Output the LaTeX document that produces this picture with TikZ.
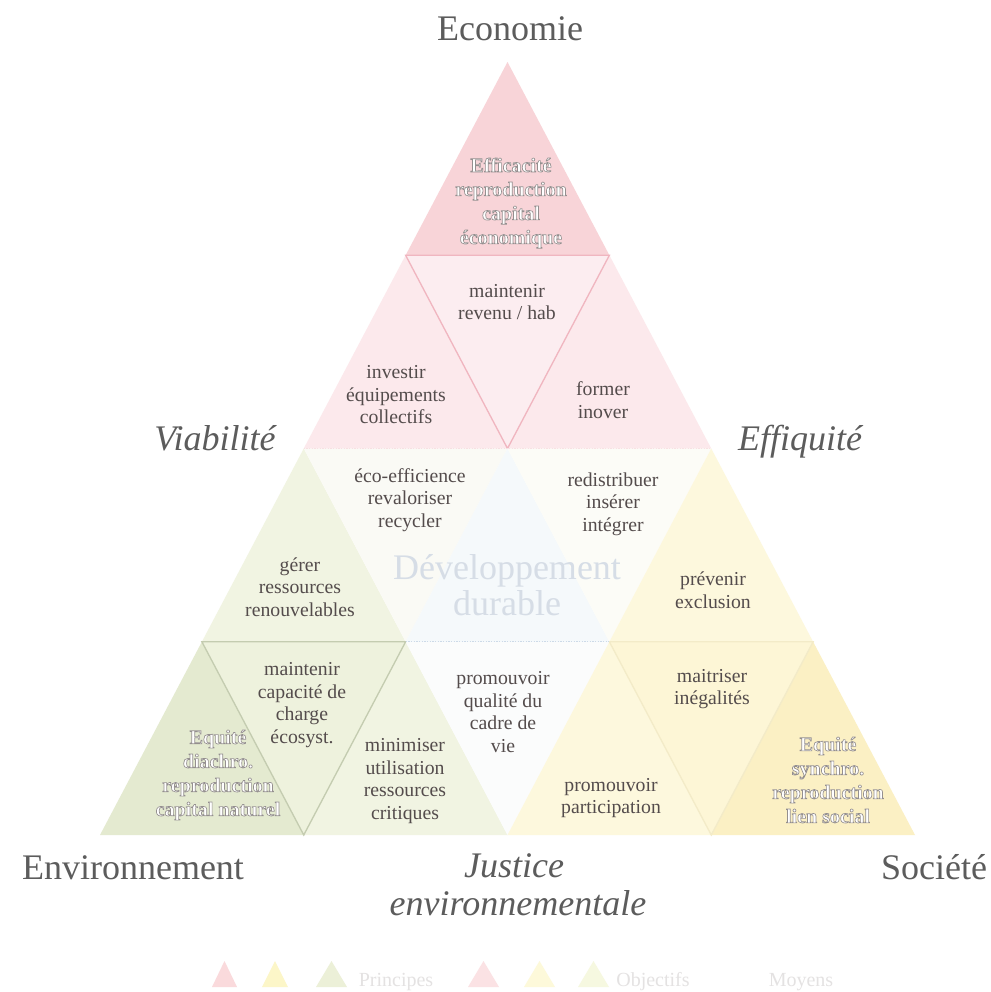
\documentclass[tikz,border=0pt]{standalone}
\usepackage{fontspec}
\setmainfont{Liberation Serif}
\definecolor{ecoP}{RGB}{248,212,216}
\definecolor{ecoO}{RGB}{252,233,236}
\definecolor{ecoM}{RGB}{252,237,240}
\definecolor{ecoL}{RGB}{240,182,192}
\definecolor{envP}{RGB}{228,234,208}
\definecolor{envO}{RGB}{241,244,226}
\definecolor{envM}{RGB}{238,242,221}
\definecolor{envL}{RGB}{196,204,176}
\definecolor{socP}{RGB}{251,240,196}
\definecolor{socO}{RGB}{253,248,221}
\definecolor{socM}{RGB}{253,246,214}
\definecolor{socL}{RGB}{238,226,176}
\definecolor{mixA}{RGB}{250,250,245}
\definecolor{mixB}{RGB}{252,252,247}
\definecolor{ddC}{RGB}{245,249,251}
\definecolor{ddL}{RGB}{205,218,232}
\definecolor{qual}{RGB}{251,252,252}
\definecolor{txt}{RGB}{84,76,76}
\definecolor{head}{RGB}{92,92,92}
\definecolor{ddT}{RGB}{214,221,230}
\definecolor{legT}{RGB}{228,226,226}
\definecolor{legP1}{RGB}{250,218,220}
\definecolor{legP2}{RGB}{252,246,200}
\definecolor{legP3}{RGB}{236,240,216}
\definecolor{legO1}{RGB}{251,226,228}
\definecolor{legO2}{RGB}{253,249,218}
\definecolor{legO3}{RGB}{246,248,224}
% white letters with a grey outline: text render mode 2 (fill + stroke)
\newcommand\pline[1]{\special{pdf:literal direct 2 Tr 0.5 w 0.58 0.56 0.56 RG}#1\special{pdf:literal direct 0 Tr}}
\tikzset{
  body/.style={align=center,text=txt,font=\fontsize{14.8}{16.9}\selectfont},
  princ/.style={align=center,text=white,font=\fontsize{15}{18}\selectfont\bfseries},
  heading/.style={text=head,font=\fontsize{27}{30}\selectfont,anchor=base},
  iheading/.style={heading,font=\fontsize{27}{30}\selectfont\itshape},
  legtext/.style={text=legT,font=\fontsize{15}{18}\selectfont,anchor=base},
  edge/.style={line width=1pt}
}
\begin{document}
\begin{tikzpicture}[x=0.75pt,y=-0.75pt]
\useasboundingbox (0,0) rectangle (990,992);
\fill[white] (0,0) rectangle (990,992);
\foreach \k in {0,...,4}{
  \foreach \i in {0,...,\k}{
    \coordinate (p\k\i) at ({507.5+(2*\i-\k)*101.875},{62+\k*193.25});
  }
}
% economy region
\fill[ecoP] (p00) -- (p10) -- (p11) -- cycle;
\fill[ecoO] (p10) -- (p20) -- (p21) -- cycle;
\fill[ecoO] (p11) -- (p21) -- (p22) -- cycle;
\fill[ecoM] (p10) -- (p11) -- (p21) -- cycle;
\draw[ecoL,edge] (p10) -- (p11) -- (p21) -- cycle;
\draw[ecoL!60,edge,densely dotted] (p20) -- (p22);
% middle row
\fill[envO] (p20) -- (p30) -- (p31) -- cycle;
\fill[mixA] (p20) -- (p21) -- (p31) -- cycle;
\fill[ddC] (p21) -- (p31) -- (p32) -- cycle;
\fill[mixB] (p21) -- (p22) -- (p32) -- cycle;
\fill[socO] (p22) -- (p32) -- (p33) -- cycle;
% bottom row
\fill[envP] (p30) -- (p40) -- (p41) -- cycle;
\fill[envM] (p30) -- (p31) -- (p41) -- cycle;
\fill[envO] (p31) -- (p41) -- (p42) -- cycle;
\fill[qual] (p31) -- (p32) -- (p42) -- cycle;
\fill[socO] (p32) -- (p42) -- (p43) -- cycle;
\fill[socM] (p32) -- (p33) -- (p43) -- cycle;
\fill[socP] (p33) -- (p43) -- (p44) -- cycle;
\draw[envL,edge] (p30) -- (p31) -- (p41) -- cycle;
\draw[socL!70,edge] (p32) -- (p33) -- (p43) -- cycle;
\draw[ddL,edge,densely dotted] (p31) -- (p32);
% principle texts
\node[princ] (effic) at (511,203) {\pline{Efficacité}\\\pline{reproduction}\\\pline{capital}\\\pline{économique}};
\node[princ] (diach) at (218,775) {\pline{Equité}\\\pline{diachro.}\\\pline{reproduction}\\\pline{capital naturel}};
\node[princ] (synch) at (828,780) {\pline{Equité}\\\pline{synchro.}\\\pline{reproduction}\\\pline{lien social}};
% body texts
\node[body] (reven) at (507,302) {maintenir\\revenu / hab};
\node[body] (inves) at (396,395) {investir\\équipements\\collectifs};
\node[body] (forme) at (603,400) {former\\inover};
\node[body] (ecoef) at (410,500) {éco-efficience\\revaloriser\\recycler};
\node[body] (redis) at (613,504) {redistribuer\\insérer\\intégrer};
\node[body] (gerer) at (300,587) {gérer\\ressources\\renouvelables};
\node[body] (preve) at (713,590) {prévenir\\exclusion};
\node[body] (capac) at (302,705) {maintenir\\capacité de\\charge\\écosyst.};
\node[body] (minim) at (405,781) {minimiser\\utilisation\\ressources\\critiques};
\node[body] (quali) at (503,712) {promouvoir\\qualité du\\cadre de\\vie};
\node[body] (parti) at (611,798) {promouvoir\\participation};
\node[body] (inega) at (712,689) {maitriser\\inégalités};
\node[align=center,text=ddT,font=\fontsize{27}{27}\selectfont] (dd) at (507,585) {Développement\\durable};
% headings
\node[heading] (econ) at (510,40) {Economie};
\node[iheading] (viab) at (215,450) {Viabilité};
\node[iheading] (effi) at (800,450) {Effiquité};
\node[heading] (envi) at (133,879) {Environnement};
\node[heading] (soci) at (934,879) {Société};
\node[iheading] (just) at (514,877) {Justice};
\node[iheading] (jenv) at (518,915) {environnementale};
% legend
\fill[legP1] (212,987) -- (237,987) -- (224.5,961) -- cycle;
\fill[legP2] (262,987) -- (288,987) -- (275,961) -- cycle;
\fill[legP3] (316,987) -- (347,987) -- (331.5,961) -- cycle;
\node[legtext] (lprin) at (396,986) {Principes};
\fill[legO1] (468,987) -- (499,987) -- (483.5,961) -- cycle;
\fill[legO2] (524,987) -- (555,987) -- (539.5,961) -- cycle;
\fill[legO3] (578,987) -- (609,987) -- (593.5,961) -- cycle;
\node[legtext] (lobj) at (653,986) {Objectifs};
\node[legtext] (lmoy) at (801,986) {Moyens};
\end{tikzpicture}
\end{document}
